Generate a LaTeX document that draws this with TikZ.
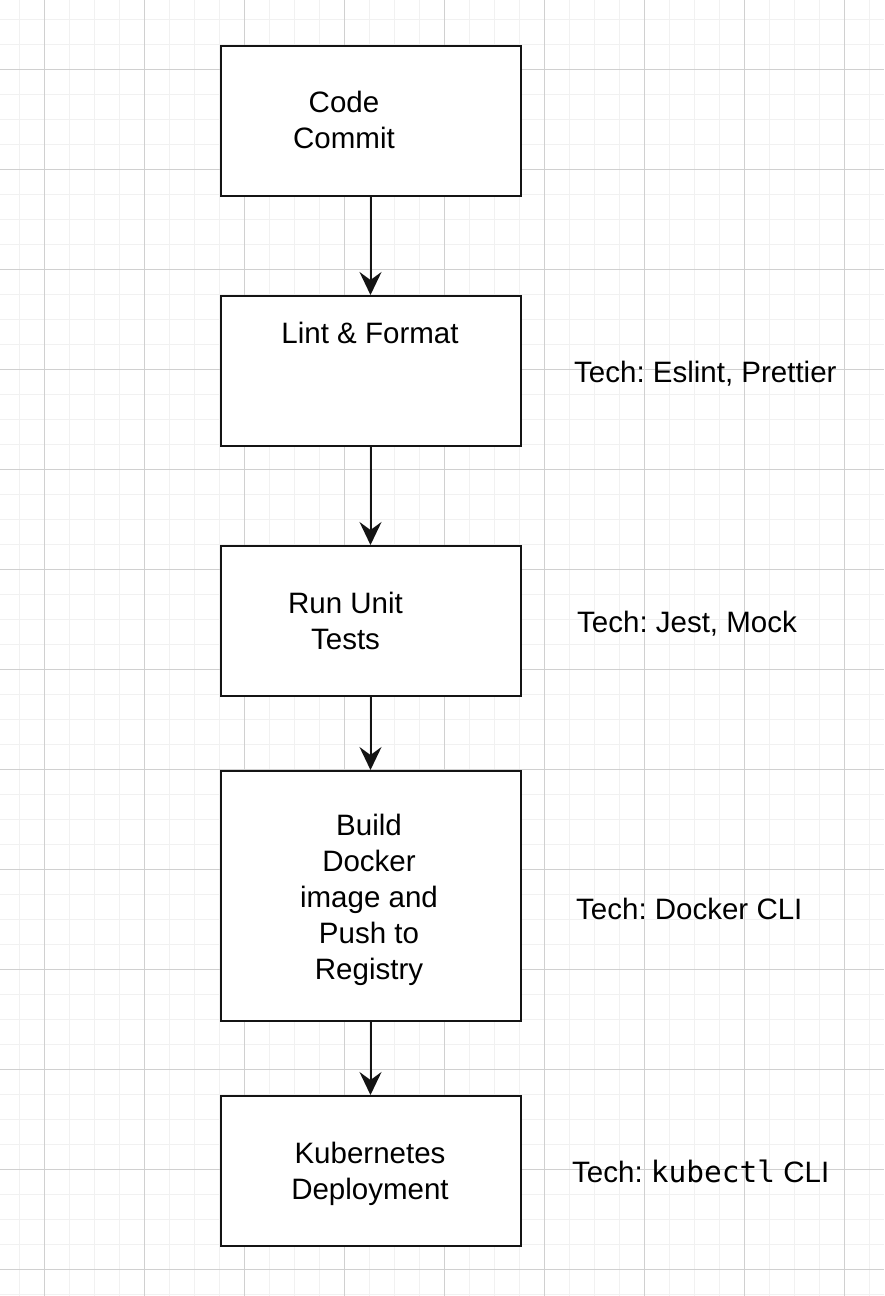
\documentclass[tikz,border=0pt]{standalone}
\usepackage{fontspec}
\setmainfont{Liberation Sans}
\newfontfamily\codefont{DejaVu Sans Mono}
\usetikzlibrary{arrows.meta}
\frenchspacing
\definecolor{gridminor}{RGB}{241,241,241}
\definecolor{gridmajor}{RGB}{208,208,208}
\definecolor{stroke}{RGB}{20,20,20}
\tikzset{
  stagebox/.style={draw=stroke, line width=2pt, fill=white, minimum width=300pt, minimum height=150pt, inner sep=0pt},
  boxlabel/.style={anchor=north, inner sep=0pt, align=center, font=\fontsize{29.5}{36}\selectfont\frenchspacing},
  techlabel/.style={anchor=base west, inner sep=0pt, font=\fontsize{29.5}{36}\selectfont\frenchspacing},
  flow/.style={draw=stroke, line width=2pt, -{Stealth[length=23pt,width=22pt,inset=8pt]}},
}
\begin{document}
\begin{tikzpicture}[x=1pt,y=-1pt]
\useasboundingbox (0,0) rectangle (884,1296);
\fill[white] (0,0) rectangle (884,1296);
% grid
\foreach \g in {19.5,44.5,...,884}{\draw[gridminor,line width=1pt] (\g,0) -- (\g,1296);}
\foreach \g in {19.5,44.5,...,1296}{\draw[gridminor,line width=1pt] (0,\g) -- (884,\g);}
\foreach \g in {44.5,144.5,...,884}{\draw[gridmajor,line width=1pt] (\g,0) -- (\g,1296);}
\foreach \g in {69.5,169.5,...,1296}{\draw[gridmajor,line width=1pt] (0,\g) -- (884,\g);}
% boxes
\node[stagebox] (commit) at (370.5,121) {};
\node[stagebox] (lint) at (370.5,371) {};
\node[stagebox] (test) at (370.5,621) {};
\node[stagebox, minimum height=250pt] (build) at (370.5,896) {};
\node[stagebox] (deploy) at (370.5,1171) {};
% box texts
\node[boxlabel] (commitT) at (344,86.8) {\strut Code\\\strut Commit};
\node[boxlabel] (lintT) at (370,317.8) {\strut Lint \& Format};
\node[boxlabel] (testT) at (345.5,588) {\strut Run Unit\\\strut Tests};
\node[boxlabel] (buildT) at (369,809.8) {\strut Build\\\strut Docker\\\strut image and\\\strut Push to\\\strut Registry};
\node[boxlabel] (deployT) at (370,1137.6) {\strut Kubernetes\\\strut Deployment};
% tech labels
\node[techlabel] (lintTech) at (574,382) {Tech: Eslint, Prettier};
\node[techlabel] (testTech) at (577,632) {Tech: Jest, Mock};
\node[techlabel] (buildTech) at (576,919) {Tech: Docker CLI};
\node[techlabel] (deployTech) at (572,1182) {Tech: {\codefont kubectl} CLI};
% connectors
\draw[flow] (commit.south) -- (lint.north);
\draw[flow] (lint.south) -- (test.north);
\draw[flow] (test.south) -- (build.north);
\draw[flow] (build.south) -- (deploy.north);
\end{tikzpicture}
\end{document}
